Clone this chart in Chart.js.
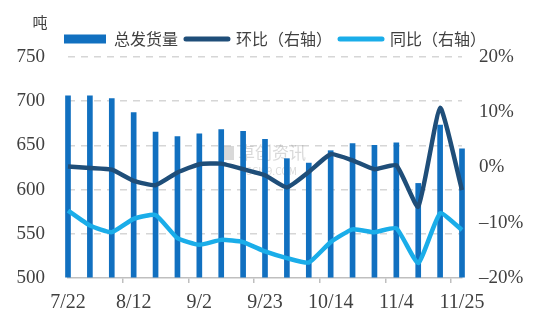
<!DOCTYPE html>
<html>
<head>
<meta charset="utf-8">
<script src="https://cdn.jsdelivr.net/npm/chart.js@4.4.1/dist/chart.umd.min.js"></script>
<style>
  html, body { margin: 0; padding: 0; background: #fff; }
  #wrap { width: 550px; height: 328px; }
</style>
</head>
<body>
<div id="wrap"><canvas id="myChart" width="550" height="328"></canvas></div>
<script>
// weekly shipments (tons) with week-on-week and year-on-year change (%)
const weeks = ['7/22', '7/29', '8/5', '8/12', '8/19', '8/26', '9/2', '9/9', '9/16', '9/23',
  '9/30', '10/7', '10/14', '10/21', '10/28', '11/4', '11/11', '11/18', '11/25'];
const shipments = [706, 706, 703, 687, 665, 660, 663, 668, 666, 657,
  635, 630, 644, 652, 650, 653, 607, 673, 646];
const momChange = [0.2, -0.1, -0.4, -2.4, -3.2, -0.9, 0.6, 0.7, -0.3, -1.4,
  -3.6, -0.8, 2.4, 1.3, -0.3, 0.4, -7.1, 10.8, -4.1];
const yoyChange = [-7.8, -10.5, -11.7, -9.3, -8.6, -12.8, -14.0, -13.1, -13.5, -15.2,
  -16.4, -17.2, -13.5, -11.2, -11.7, -11.0, -17.3, -8.3, -11.3];
const leftTicks = [500, 550, 600, 650, 700, 750];
const rightTicks = [-20, -10, 0, 10, 20];

const cjk = "'Noto Sans CJK SC', 'Noto Sans', sans-serif";
const serif = "'Liberation Serif', 'DejaVu Serif', serif";
const textColor = '#404040';

// unit label and faint logo text
const extras = {
  id: 'extras',
  beforeDatasetsDraw(chart) {
    const ctx = chart.ctx;
    ctx.save();
    ctx.fillStyle = 'rgba(160,160,160,0.4)';
    ctx.font = '17px ' + cjk;
    ctx.textAlign = 'left';
    ctx.textBaseline = 'middle';
    ctx.fillText('卓创资讯', 238, 153);
    ctx.font = '10px ' + cjk;
    ctx.fillText('SCI99.COM', 246, 171);
    ctx.fillRect(222, 146, 12, 14);
    ctx.restore();
  },
  afterDraw(chart) {
    const ctx = chart.ctx;
    ctx.save();
    ctx.fillStyle = textColor;
    ctx.font = '15px ' + cjk;
    ctx.textAlign = 'center';
    ctx.textBaseline = 'middle';
    ctx.fillText('吨', 40, 22);
    ctx.restore();
  }
};

const ctx = document.getElementById('myChart').getContext('2d');
new Chart(ctx, {
  type: 'bar',
  data: {
    labels: weeks,
    datasets: [
      {
        type: 'bar',
        label: '总发货量',
        data: shipments,
        backgroundColor: '#1170c0',
        barThickness: 5,
        base: leftTicks[0],
        yAxisID: 'y',
        clip: false,
        order: 3
      },
      {
        type: 'line',
        label: '环比（右轴）',
        data: momChange,
        borderColor: '#1f4e79',
        borderWidth: 4.5,
        pointRadius: 0,
        tension: 0.15,
        borderJoinStyle: 'round',
        yAxisID: 'y1',
        order: 2
      },
      {
        type: 'line',
        label: '同比（右轴）',
        data: yoyChange,
        borderColor: '#1aade9',
        borderWidth: 4.5,
        pointRadius: 0,
        tension: 0.15,
        borderJoinStyle: 'round',
        yAxisID: 'y1',
        order: 1
      }
    ]
  },
  options: {
    responsive: false,
    devicePixelRatio: 1,
    animation: false,
    layout: { padding: { top: 23, left: 0, right: 0, bottom: 5 } },
    plugins: {
      tooltip: { enabled: false },
      legend: {
        position: 'top',
        labels: {
          usePointStyle: true,
          pointStyleWidth: 42,
          boxHeight: 16,
          padding: 8,
          color: textColor,
          font: { family: cjk, size: 16 },
          generateLabels: chart => chart.data.datasets.map((d, i) => ({
            text: d.label,
            fillStyle: d.type === 'bar' ? d.backgroundColor : d.borderColor,
            strokeStyle: d.type === 'bar' ? d.backgroundColor : d.borderColor,
            lineWidth: i === 0 ? 9 : 5,
            lineCap: i === 0 ? 'butt' : 'round',
            pointStyle: 'line',
            fontColor: textColor,
            hidden: false,
            datasetIndex: i
          }))
        }
      }
    },
    scales: {
      x: {
        type: 'category',
        offset: false,
        grid: {
          drawOnChartArea: false,
          drawTicks: true,
          tickLength: 5,
          lineWidth: 1.5,
          color: c => (c.index % 3 === 0 ? '#bfbfbf' : 'rgba(0,0,0,0)')
        },
        border: { display: true, color: '#bfbfbf', width: 1.5 },
        ticks: {
          autoSkip: false,
          maxRotation: 0,
          padding: 8,
          color: textColor,
          font: { family: serif, size: 20 },
          callback: (v, i) => (i % 3 === 0 ? weeks[i] : '')
        }
      },
      y: {
        position: 'left',
        min: leftTicks[0],
        max: leftTicks[leftTicks.length - 1],
        afterBuildTicks: s => { s.ticks = leftTicks.map(v => ({ value: v })); },
        afterFit: s => { s.width = 68; },
        grid: {
          drawTicks: false,
          lineWidth: 1.5,
          borderDash: [7, 6],
          color: c => (c.tick && c.tick.value === 500 ? 'rgba(0,0,0,0)' : '#d6d6d6')
        },
        border: { display: false, dash: [7, 6] },
        ticks: {
          padding: 23,
          color: textColor,
          font: { family: serif, size: 19 }
        }
      },
      y1: {
        position: 'right',
        min: rightTicks[0],
        max: rightTicks[rightTicks.length - 1],
        afterBuildTicks: s => { s.ticks = rightTicks.map(v => ({ value: v })); },
        afterFit: s => { s.width = 88; },
        grid: { drawOnChartArea: false, drawTicks: false },
        border: { display: false },
        ticks: {
          padding: 17,
          color: textColor,
          font: { family: serif, size: 19 },
          callback: v => (v < 0 ? '\u2013' + Math.abs(v) : v) + '%'
        }
      }
    }
  },
  plugins: [extras]
});
</script>
</body>
</html>
